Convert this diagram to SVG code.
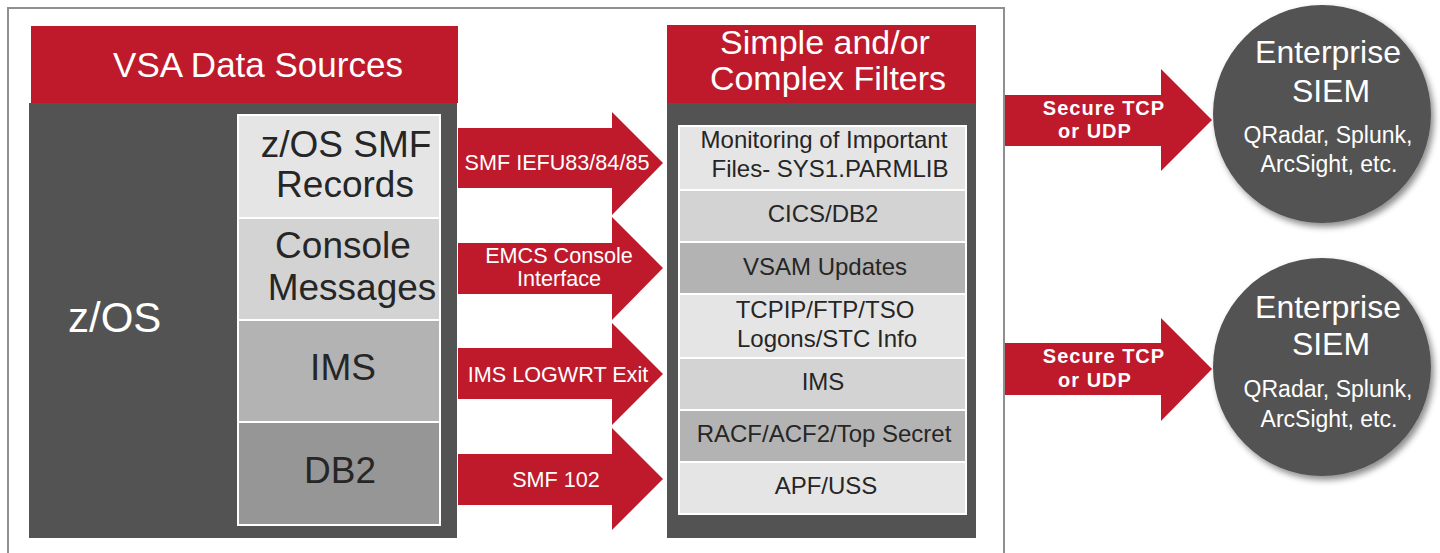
<svg xmlns="http://www.w3.org/2000/svg" width="1440" height="553" viewBox="0 0 1440 553">
<defs>
<style>
.red{fill:#be1a2c}
.dark{fill:#535353}
.c1{fill:#e5e5e5;stroke:#fff;stroke-width:2}
.c2{fill:#d3d3d3;stroke:#fff;stroke-width:2}
.c3{fill:#b3b3b3;stroke:#fff;stroke-width:2}
.c4{fill:#969696;stroke:#fff;stroke-width:2}
text{font-family:"Liberation Sans",Arial,sans-serif}
.wt{fill:#fff}
.bk{fill:#262626}
.mid{text-anchor:middle}
.big{font-size:37px}
.arr{font-size:21.6px}
.flt{font-size:24px}
.sec{font-size:20px;font-weight:bold;letter-spacing:1px}
.ent{font-size:32px}
.sub{font-size:23px}
</style>
<filter id="sh" x="-20%" y="-20%" width="140%" height="140%">
<feDropShadow dx="3" dy="4" stdDeviation="3" flood-color="#000" flood-opacity="0.45"/>
</filter>
</defs>
<rect width="1440" height="553" fill="#fff"/>
<path d="M8,560 V8 H1004 V560" fill="none" stroke="#8f8f8f" stroke-width="2"/>

<g id="vsa-data-sources">
<rect class="dark" x="29" y="103" width="428" height="435"/>
<rect class="red" x="31" y="26" width="427" height="77"/>
<text class="wt mid" x="258" y="77" style="font-size:35px">VSA Data Sources</text>
<text class="wt" x="68" y="332" style="font-size:42px">z/OS</text>
</g>
<g id="smf-records">
<rect class="c1" x="238" y="115" width="202" height="103"/>
<text class="bk mid big" x="346" y="157">z/OS SMF</text>
<text class="bk mid big" x="345" y="197">Records</text>
</g>
<g id="console-messages">
<rect class="c2" x="238" y="218" width="202" height="102"/>
<text class="bk mid big" x="343" y="258">Console</text>
<text class="bk mid big" x="352" y="300">Messages</text>
</g>
<g id="ims-source">
<rect class="c3" x="238" y="320" width="202" height="102"/>
<text class="bk mid big" x="343" y="380">IMS</text>
</g>
<g id="db2-source">
<rect class="c4" x="238" y="422" width="202" height="103"/>
<text class="bk mid big" x="340" y="483">DB2</text>
</g>

<g id="filters">
<rect class="dark" x="667" y="103" width="309" height="435"/>
<rect class="red" x="667" y="25" width="309" height="78"/>
<text class="wt mid" x="825" y="54" style="font-size:34px">Simple and/or</text>
<text class="wt mid" x="828" y="90" style="font-size:34px">Complex Filters</text>
<rect class="c1" x="679" y="126" width="287" height="64"/>
<text class="bk mid flt" x="824" y="148">Monitoring of Important</text>
<text class="bk mid flt" x="830" y="177">Files- SYS1.PARMLIB</text>
<rect class="c2" x="679" y="190" width="287" height="52"/>
<text class="bk mid flt" x="823" y="222">CICS/DB2</text>
<rect class="c3" x="679" y="242" width="287" height="52"/>
<text class="bk mid flt" x="825" y="275">VSAM Updates</text>
<rect class="c1" x="679" y="294" width="287" height="64"/>
<text class="bk mid flt" x="825" y="318">TCPIP/FTP/TSO</text>
<text class="bk mid flt" x="827" y="347">Logons/STC Info</text>
<rect class="c2" x="679" y="358" width="287" height="52"/>
<text class="bk mid flt" x="823" y="390">IMS</text>
<rect class="c3" x="679" y="410" width="287" height="52"/>
<text class="bk mid flt" x="824" y="442">RACF/ACF2/Top Secret</text>
<rect class="c1" x="679" y="462" width="287" height="52"/>
<text class="bk mid flt" x="826" y="494">APF/USS</text>
</g>

<g id="siem-1">
<circle cx="1322" cy="114" r="109" fill="#535353" filter="url(#sh)"/>
<text class="wt mid ent" x="1328" y="63">Enterprise</text>
<text class="wt mid ent" x="1331" y="102">SIEM</text>
<text class="wt mid sub" x="1328" y="143">QRadar, Splunk,</text>
<text class="wt mid sub" x="1329" y="172">ArcSight, etc.</text>
</g>
<g id="siem-2">
<circle cx="1322" cy="367" r="109" fill="#535353" filter="url(#sh)"/>
<text class="wt mid ent" x="1328" y="318">Enterprise</text>
<text class="wt mid ent" x="1331" y="355">SIEM</text>
<text class="wt mid sub" x="1328" y="397">QRadar, Splunk,</text>
<text class="wt mid sub" x="1329" y="427">ArcSight, etc.</text>
</g>

<g id="connectors">
<polygon class="red" points="458,128 612,128 612,112 663,163 612,215 612,188 458,188"/>
<text class="wt mid arr" x="557" y="170">SMF IEFU83/84/85</text>
<polygon class="red" points="458,243 612,243 612,217 663,268 612,320 612,294 458,294"/>
<text class="wt mid arr" x="559" y="263">EMCS Console</text>
<text class="wt mid arr" x="559" y="286">Interface</text>
<polygon class="red" points="458,348 612,348 612,323 663,374 612,425 612,399 458,399"/>
<text class="wt mid arr" x="558" y="382">IMS LOGWRT Exit</text>
<polygon class="red" points="458,454 612,454 612,428 663,479 612,530 612,505 458,505"/>
<text class="wt mid arr" x="556" y="487">SMF 102</text>
<polygon class="red" points="1005,95 1161,95 1161,69 1212,120 1161,171 1161,146 1005,146"/>
<text class="wt mid sec" x="1104" y="115">Secure TCP</text>
<text class="wt mid sec" x="1095" y="138">or UDP</text>
<polygon class="red" points="1005,343 1161,343 1161,318 1212,369 1161,421 1161,395 1005,395"/>
<text class="wt mid sec" x="1104" y="363">Secure TCP</text>
<text class="wt mid sec" x="1095" y="387">or UDP</text>
</g>
</svg>
